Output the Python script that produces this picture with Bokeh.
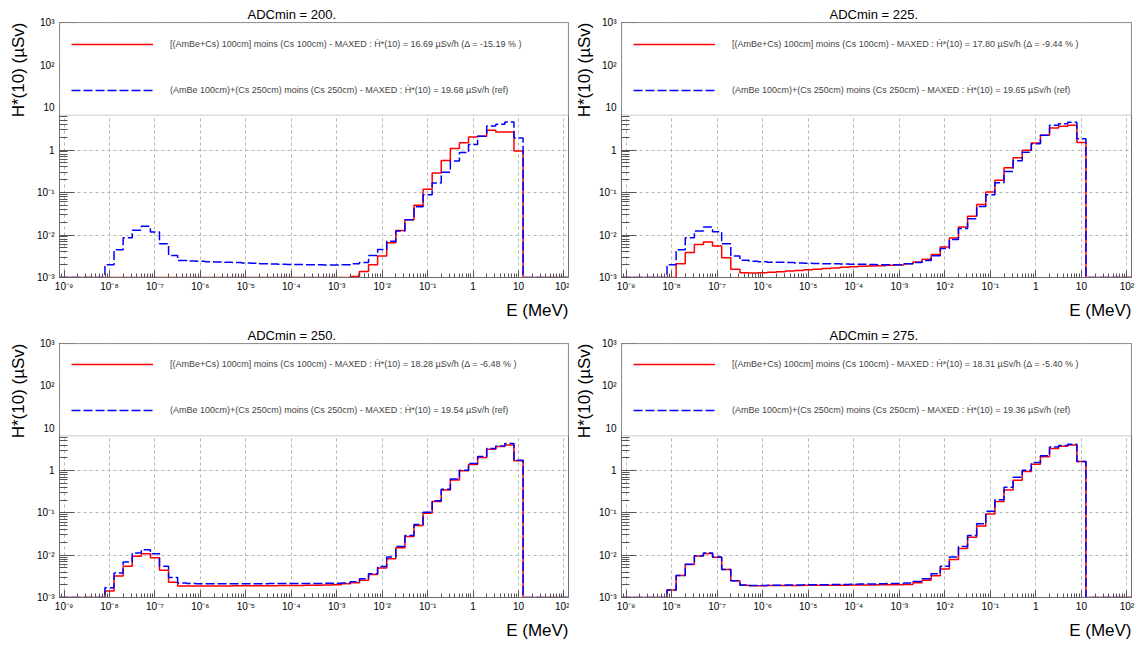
import numpy as np
from bokeh.plotting import figure
from bokeh.models import (FixedTicker, CustomJSTickFormatter, Legend, Title,
                          LegendItem, BoxAnnotation, Range1d)
from bokeh.layouts import row, column
from bokeh.embed import file_html
from bokeh.resources import INLINE

# ---------------- data ----------------
TITLES = ["ADCmin = 200.", "ADCmin = 225.", "ADCmin = 250.", "ADCmin = 275."]
RED_DOSE = ["16.69", "17.80", "18.28", "18.31"]
RED_DELTA = ["-15.19", "-9.44", "-6.48", "-5.40"]
BLUE_DOSE = ["19.68", "19.65", "19.54", "19.36"]

# histogram binning: 0.2-decade log bins over 10^-9.1 .. 10^2.1 MeV
X_LO_EXP, X_HI_EXP, BIN_DEC = -9.1, 2.1, 0.2
FIRST_FILLED_EDGE_EXP = -8.1   # values below start at this bin edge

# H*(10) per bin (uSv), bins from 10^-8.1 to 10^1.1
red_200 = [0, 0, 0, 0, 0, 0, 0, 0, 0, 0, 0, 0, 0, 0, 0, 0, 0, 0, 0, 0, 0, 0, 0, 0, 0, 0, 0,
           1.06e-3, 1.38e-3, 2.0e-3, 3.2e-3, 6.6e-3, 1.28e-2, 2.3e-2, 0.05, 0.119, 0.288,
           0.57, 1.08, 1.49, 2.03, 2.10, 2.91, 2.66, 2.66, 0.95]
blue_200 = [2.0e-3, 4.5e-3, 8.6e-3, 1.3e-2, 1.6e-2, 1.17e-2, 6.2e-3, 3.3e-3, 2.5e-3,
            2.45e-3, 2.4e-3, 2.36e-3, 2.32e-3, 2.28e-3, 2.24e-3, 2.2e-3, 2.16e-3, 2.12e-3,
            2.09e-3, 2.06e-3, 2.03e-3, 2.01e-3, 2.0e-3, 1.99e-3, 1.98e-3, 1.98e-3,
            2.0e-3, 2.1e-3, 2.25e-3, 3.3e-3, 4.55e-3, 7.1e-3, 1.25e-2, 2.3e-2, 0.046, 0.089,
            0.168, 0.30, 0.55, 0.87, 1.34, 2.10, 3.68, 4.02, 4.57, 1.92]

red_225 = [0, 2.1e-3, 3.9e-3, 6.0e-3, 6.8e-3, 5.5e-3, 2.9e-3, 1.57e-3,
           1.3e-3, 1.28e-3, 1.3e-3, 1.33e-3, 1.37e-3, 1.42e-3, 1.47e-3, 1.52e-3, 1.57e-3,
           1.62e-3, 1.68e-3, 1.74e-3, 1.8e-3, 1.84e-3, 1.87e-3, 1.9e-3, 1.93e-3, 1.96e-3,
           2.1e-3, 2.32e-3, 2.68e-3, 3.5e-3, 5.2e-3, 8.5e-3, 1.55e-2, 2.75e-2, 0.052, 0.103,
           0.194, 0.38, 0.66, 0.98, 1.47, 2.22, 3.3, 3.6, 3.81, 1.5]
blue_225 = [2.0e-3, 4.5e-3, 8.6e-3, 1.25e-2, 1.55e-2, 1.2e-2, 6.2e-3, 3.2e-3,
            2.55e-3, 2.4e-3, 2.35e-3, 2.3e-3, 2.27e-3, 2.24e-3, 2.2e-3, 2.17e-3, 2.14e-3,
            2.12e-3, 2.1e-3, 2.08e-3, 2.06e-3, 2.04e-3, 2.02e-3, 2.0e-3, 2.0e-3, 2.0e-3,
            2.12e-3, 2.24e-3, 2.5e-3, 3.27e-3, 4.8e-3, 7.8e-3, 1.42e-2, 2.4e-2, 0.047, 0.088,
            0.17, 0.31, 0.56, 0.88, 1.41, 2.22, 3.81, 4.17, 4.5, 1.83]

red_250 = [1.43e-3, 3.2e-3, 5.5e-3, 9.4e-3, 1.08e-2, 8.7e-3, 4.4e-3, 2.3e-3,
           1.87e-3, 1.87e-3, 1.87e-3, 1.88e-3, 1.88e-3, 1.88e-3, 1.89e-3, 1.89e-3, 1.9e-3,
           1.9e-3, 1.9e-3, 1.91e-3, 1.92e-3, 1.93e-3, 1.94e-3, 1.95e-3, 1.97e-3, 2.0e-3,
           2.12e-3, 2.24e-3, 2.54e-3, 3.5e-3, 5.0e-3, 8.2e-3, 1.49e-2, 2.75e-2, 0.05, 0.098,
           0.184, 0.345, 0.60, 0.98, 1.39, 2.03, 3.18, 3.67, 4.03, 1.69]
blue_250 = [1.7e-3, 3.8e-3, 6.9e-3, 1.12e-2, 1.35e-2, 1.08e-2, 5.5e-3, 2.95e-3,
            2.2e-3, 2.13e-3, 2.12e-3, 2.12e-3, 2.12e-3, 2.12e-3, 2.12e-3, 2.12e-3, 2.12e-3,
            2.12e-3, 2.13e-3, 2.13e-3, 2.14e-3, 2.14e-3, 2.15e-3, 2.15e-3, 2.16e-3, 2.18e-3,
            2.2e-3, 2.36e-3, 2.78e-3, 3.64e-3, 5.4e-3, 9.0e-3, 1.6e-2, 2.9e-2, 0.053, 0.103,
            0.194, 0.363, 0.63, 1.02, 1.47, 2.14, 3.3, 3.81, 4.32, 1.75]

red_275 = [1.5e-3, 3.3e-3, 6.0e-3, 9.6e-3, 1.1e-2, 8.9e-3, 4.6e-3, 2.5e-3,
           1.95e-3, 1.9e-3, 1.9e-3, 1.91e-3, 1.92e-3, 1.92e-3, 1.93e-3, 1.94e-3, 1.94e-3,
           1.95e-3, 1.95e-3, 1.96e-3, 1.97e-3, 1.97e-3, 1.98e-3, 1.99e-3, 2.0e-3, 2.01e-3,
           2.04e-3, 2.24e-3, 2.54e-3, 3.27e-3, 4.7e-3, 7.9e-3, 1.44e-2, 2.66e-2, 0.049, 0.094,
           0.184, 0.345, 0.59, 0.95, 1.41, 2.1, 3.3, 3.74, 4.03, 1.63]
blue_275 = [1.5e-3, 3.3e-3, 6.1e-3, 9.7e-3, 1.12e-2, 9.0e-3, 4.6e-3, 2.5e-3,
            1.98e-3, 1.92e-3, 1.93e-3, 1.95e-3, 1.96e-3, 1.97e-3, 1.98e-3, 1.99e-3, 2.0e-3,
            2.01e-3, 2.02e-3, 2.04e-3, 2.05e-3, 2.07e-3, 2.09e-3, 2.11e-3, 2.13e-3, 2.15e-3,
            2.2e-3, 2.4e-3, 2.78e-3, 3.64e-3, 5.5e-3, 9.0e-3, 1.6e-2, 2.9e-2, 0.055, 0.109,
            0.205, 0.40, 0.69, 1.02, 1.55, 2.22, 3.6, 3.88, 4.17, 1.63]

RED_SERIES = [red_200, red_225, red_250, red_275]
BLUE_SERIES = [blue_200, blue_225, blue_250, blue_275]

# ---------------- styling / layout constants ----------------
FONT = "Liberation Sans"
Y_MIN, Y_MAX = 1e-3, 1e3
LEGEND_BOTTOM = 6.6          # legend box lower edge (data units on y)
FRAME_H = 255
RED = "#ff0000"
BLUE = "#0000ff"
TITLE_OFFSETS = [188, 208, 188, 208]

edges = 10 ** np.round(np.arange(X_LO_EXP, X_HI_EXP + 1e-9, BIN_DEC), 6)
n_bins = len(edges) - 1
first_bin = int(round((FIRST_FILLED_EDGE_EXP - X_LO_EXP) / BIN_DEC))


def step_xy(vals):
    counts = np.zeros(n_bins)
    counts[first_bin:first_bin + len(vals)] = vals
    counts = np.where(counts > 0, counts, Y_MIN)   # empty bins drawn on the frame bottom
    xs = np.repeat(edges, 2)[1:-1]
    ys = np.repeat(counts, 2)
    return xs, ys


SUP_JS = """
const e = Math.round(Math.log10(tick));
if (e == 0) return "1";
if (e == 1) return "10";
const sup = {"-":"\u207b","0":"\u2070","1":"\u00b9","2":"\u00b2","3":"\u00b3","4":"\u2074",
             "5":"\u2075","6":"\u2076","7":"\u2077","8":"\u2078","9":"\u2079"};
return "10" + String(e).split("").map(c => sup[c]).join("");
"""


def make_panel(k, width, height, border_left, border_right, border_top, ylab_standoff):
    border_bottom = height - border_top - FRAME_H
    p = figure(width=width, height=height, x_axis_type="log", y_axis_type="log",
               x_range=Range1d(edges[0], edges[-1]), y_range=Range1d(Y_MIN, Y_MAX),
               output_backend="svg", toolbar_location=None,
               min_border_left=border_left, min_border_right=border_right,
               min_border_top=border_top, min_border_bottom=border_bottom)
    p.background_fill_color = "white"
    p.border_fill_color = "white"
    p.outline_line_color = "#6e6e6e"

    # main title
    p.title.text = TITLES[k]
    p.title.align = "left"
    p.title.offset = TITLE_OFFSETS[k]
    p.title.standoff = 2
    p.title.text_font = FONT
    p.title.text_font_size = "13px"
    p.title.text_font_style = "normal"
    p.title.text_line_height = 1.0
    p.title.text_color = "black"

    xt = FixedTicker(ticks=[10.0 ** e for e in range(-9, 3)],
                     minor_ticks=[m * 10.0 ** e for e in range(-10, 3) for m in range(2, 10)])
    yt = FixedTicker(ticks=[10.0 ** e for e in range(-3, 4)],
                     minor_ticks=[m * 10.0 ** e for e in range(-4, 4) for m in range(2, 10)])
    fmt = CustomJSTickFormatter(code=SUP_JS)
    p.xaxis.ticker = xt
    p.yaxis.ticker = yt
    p.xgrid.ticker = xt
    p.ygrid.ticker = yt
    for ax in (p.xaxis, p.yaxis):
        ax.formatter = fmt
        ax.axis_line_color = "#6e6e6e"
        ax.major_tick_line_color = "#555555"
        ax.minor_tick_line_color = "#555555"
        ax.major_tick_out = 0
        ax.minor_tick_out = 0
        ax.major_label_text_font = FONT
        ax.major_label_text_font_size = "10px"
        ax.major_label_text_color = "black"
    p.xaxis.major_tick_in = 7
    p.xaxis.minor_tick_in = 4
    p.xaxis.major_label_standoff = 3
    p.yaxis.major_tick_in = 15
    p.yaxis.minor_tick_in = 8
    p.yaxis.major_label_standoff = 5
    p.grid.grid_line_color = "#b4b4b4"
    p.grid.grid_line_dash = "3 3"
    p.grid.grid_line_width = 1

    # axis titles (ROOT style: aligned to the axis end)
    p.add_layout(Title(text="E (MeV)", align="right", standoff=9, text_font=FONT,
                       text_font_size="17px", text_font_style="normal",
                       text_line_height=1.0, text_color="black"), "below")
    p.add_layout(Title(text="H*(10) (\u00b5Sv)", align="right", standoff=ylab_standoff,
                       text_font=FONT, text_font_size="17px", text_font_style="normal",
                       text_line_height=1.0, text_color="black"), "left")

    xr, yr = step_xy(RED_SERIES[k])
    xb, yb = step_xy(BLUE_SERIES[k])
    r_red = p.line(xr, yr, line_color=RED, line_width=1.5)
    r_blue = p.line(xb, yb, line_color=BLUE, line_width=1.5, line_dash="9 3")

    # white legend box covering the top of the frame
    p.add_layout(BoxAnnotation(bottom=LEGEND_BOTTOM, fill_color="white", fill_alpha=1.0,
                               line_color="#8c8c8c", line_width=1.5))

    red_label = ("[(AmBe+Cs) 100cm] moins (Cs 100cm) - MAXED : \u1e22*(10) = "
                 f"{RED_DOSE[k]} \u00b5Sv/h (\u0394 = {RED_DELTA[k]} % )")
    blue_label = ("(AmBe 100cm)+(Cs 250cm) moins (Cs 250cm) - MAXED : \u1e22*(10) = "
                  f"{BLUE_DOSE[k]} \u00b5Sv/h (ref)")
    legend = Legend(items=[LegendItem(label=red_label, renderers=[r_red]),
                           LegendItem(label=blue_label, renderers=[r_blue])],
                    location=(2, FRAME_H - 88), orientation="vertical",
                    glyph_width=82, glyph_height=20, label_height=20, spacing=26,
                    padding=10, margin=0, label_standoff=17,
                    border_line_alpha=0, background_fill_alpha=0,
                    label_text_font=FONT, label_text_font_size="9px")
    p.add_layout(legend, "center")
    return p


p1 = make_panel(0, 569, 324, 59, 1, 22, 13)
p2 = make_panel(1, 568, 324, 52, 6, 22, 6)
p3 = make_panel(2, 569, 322, 59, 1, 18, 13)
p4 = make_panel(3, 568, 322, 52, 6, 18, 6)

layout = column(row(p1, p2), row(p3, p4))
open("out.html", "w").write(file_html(layout, INLINE))
